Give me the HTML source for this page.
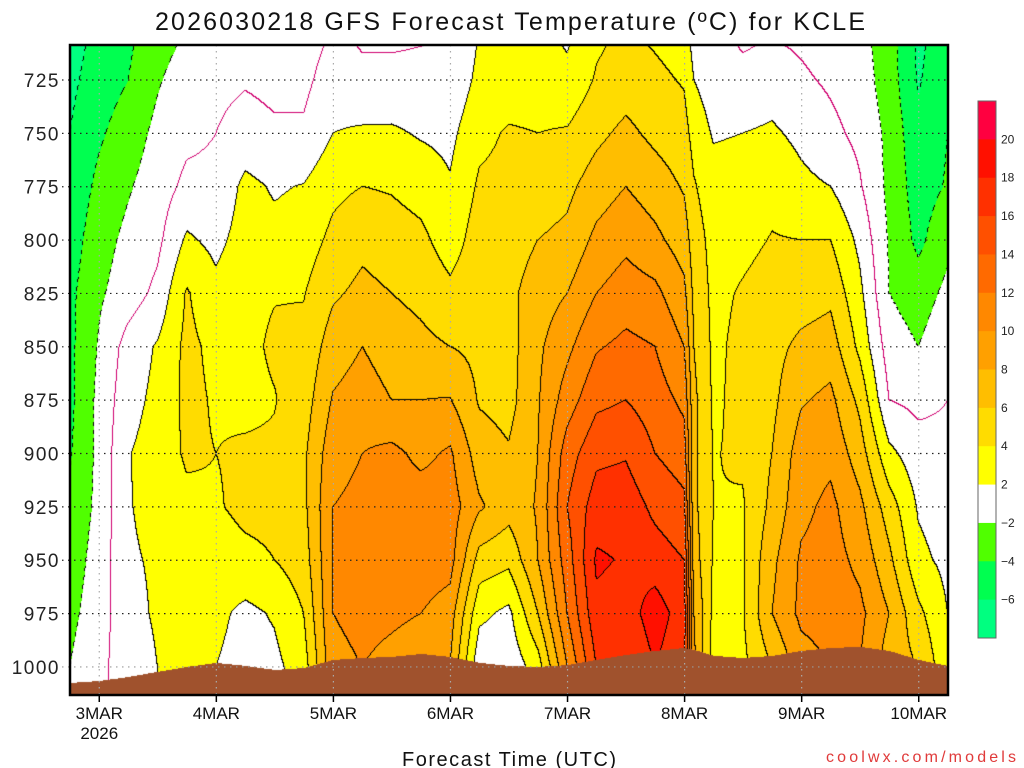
<!DOCTYPE html>
<html><head><meta charset="utf-8"><style>
html,body{margin:0;padding:0;background:#fff;}
#wrap{position:relative;width:1024px;height:768px;overflow:hidden;font-family:"Liberation Sans",sans-serif;}
canvas{position:absolute;left:70px;top:45px;}
svg{position:absolute;left:0;top:0;}
</style></head><body>
<div id="wrap">
<canvas id="cv" width="878" height="650"></canvas>
<svg id="sv" width="1024" height="768"></svg>
</div>
<script>
// ---- data ----
const forecastHours = [0,6,12,18,24,30,36,42,48,54,60,66,72,78,84,90,96,102,108,114,120,126,128,132,138,144,150,156,162,168,174,180];
const pressureLevels = [700,725,750,775,800,825,850,875,900,925,950,975,1000];
const temps = [
[-7,-6.5,-6,-5.5,-5,-4.5,-4.5,-4.5,-4.2,-3.5,-3,-2.5,-2],
[-5.5,-5,-4.3,-3.5,-2.8,-2.3,-1.8,-1.5,-1.5,-1.5,-1.2,-1,-0.5],
[-4.5,-4,-3,-2.2,-1.5,-1,0.8,1.3,1.9,1.9,1.8,1.5,1],
[-3,-2.2,-1.5,-1,-0.5,0.5,2.2,2.5,2.8,2.5,2.2,2.2,2],
[-2,-1,-0.5,0.5,2.3,4.2,4.5,4.5,4.3,3.5,3,2.5,2],
[-1,-0.5,0,0.5,1.5,2.5,3.5,3.8,4,3.8,3,2.5,2],
[-0.5,-0.2,0.8,2.5,2.8,3.5,3.5,3.5,4.3,4.5,3.5,1.5,1.2],
[-1,-0.5,0.3,1.8,2.5,3.9,4.3,3.9,4.3,4.5,4,2.2,1.5],
[-1,-0.5,0.3,2.1,3,3.9,4.5,5,5.6,5.5,5,4,3],
[0,1,2,3.5,4.5,5.7,7,8.2,9.3,10,10,10,9.5],
[-0.3,0.3,2.3,4,5.5,6.5,8,9,10,10.5,11,10.5,10],
[-0.5,0.5,2.3,3.8,5,6,7,8,10.5,11,11,10.3,9.5],
[-0.3,0.5,1.8,3.2,4.5,5.5,6.5,8,9.5,11,11.2,10,9],
[0,0.5,1.5,2.2,3,4.5,6,8.1,10.3,11,10.8,9,8],
[2,2.5,3.5,4.3,5,5.5,5.5,5.8,7,8.3,5.2,2.5,0.5],
[2.5,3,4.2,4.5,5,5.5,5.2,5.3,6.2,6.8,4.5,1.5,0.5],
[2.5,3,4,5,6,7,7.6,7.8,8,8.2,8,6,3],
[1.5,2.5,4.2,5.5,6.5,8,9.5,11,13,14,13,12,10],
[3.5,4.2,5.5,7,8.5,10,11.8,13.5,15.5,17,18.3,17.5,16],
[4.2,5,6.5,8,9.5,11,12.5,14,15.8,17.2,17.8,17,16],
[3.5,4.5,5.5,7,8.5,10.5,12,13,14,15.5,17,19,18],
[2.8,3.8,4.8,5.8,7,8.5,10,11.5,13,14.5,16,17,16.5],
[1,2,3.2,4.2,5,5.5,6,6.5,6.5,6.5,7,8,8.5],
[0.5,1,1.8,2.8,3.3,3.5,3.6,3.7,3.9,4,3.8,3.5,3],
[-0.5,0.5,2,3,3.5,4.2,4.5,4.5,4.3,3.8,3.8,3.8,3.5],
[-0.3,1,2.3,3.5,4.1,4.8,5.3,5.5,6,6.5,7.5,8,6],
[-0.5,0.3,1.5,2.5,4,5,6.5,7.8,9,9.5,10.3,10.5,9],
[-1,-0.3,0.5,2,4,5.5,7,8.5,9.5,10.5,10.8,11,10],
[-1.5,-1,-0.5,0.2,1.5,2.5,3.5,5.5,7,8.5,9.5,10.5,10],
[-3,-3,-2.5,-2.5,-2.2,-2,-1,0,2.5,5,6.5,8,7],
[-6.5,-6.2,-5.5,-5,-4.5,-3,-2,-0.5,0.8,1.8,2.5,4.5,6],
[-5,-4.5,-4,-3.8,-2.5,-1.5,-0.5,0,0.5,1,1.5,2,2.5]
];
const surfacePressure = [1007.5,1006.6,1004.7,1002.3,1000,998.1,999.5,1001.4,1000.5,996.7,995.8,995.3,993.9,995.3,998.1,999.5,1000,999.1,996.7,994.4,992.5,991.1,992,994.8,995.8,994.8,992.5,991.1,990.6,992.5,996.7,999.5];
const yTicks = [725,750,775,800,825,850,875,900,925,950,975,1000];
const dayLabels = ["3MAR","4MAR","5MAR","6MAR","7MAR","8MAR","9MAR","10MAR"];
const dayHours = [6,30,54,78,102,126,150,174];
const cbLevels = ["20","18","16","14","12","10","8","6","4","2","\u22122","\u22124","\u22126"];

// ---- axes ----
const X0=70,X1=948,Y0=45,Y1=695;
const xOf = h => X0 + h*(X1-X0)/180;
const hOf = x => (x-X0)*180/(X1-X0);
const yOf = p => 80 + (p-725)*53.36/25;
const pOf = y => 725 + (y-80)*25/53.36;
const colors = ["#00ff80","#00ff50","#50ff00","#ffffff","#ffffff","#ffff00","#ffdc00","#ffbe00","#ffa000","#ff8800","#ff6a00","#ff5000","#ff3000","#ff1000","#ff0040"];
function cls(t){ let c=Math.floor(t/2)+4; return Math.max(0,Math.min(14,c)); }
function hexRGB(h){return [parseInt(h.substr(1,2),16),parseInt(h.substr(3,2),16),parseInt(h.substr(5,2),16)];}
const rgb = colors.map(hexRGB);
const N=forecastHours.length;
function seg(h){
  let i=0; while(i<N-2 && h>=forecastHours[i+1]) i++;
  let fx=(h-forecastHours[i])/(forecastHours[i+1]-forecastHours[i]);
  return [i,Math.max(0,Math.min(1,fx))];
}
function sample(h,p){
  const [i,fx]=seg(h);
  let fj=(p-700)/25; let j=Math.max(0,Math.min(11,Math.floor(fj))); let fy=Math.max(0,Math.min(1,fj-j));
  const a=temps[i][j],b=temps[i+1][j],c=temps[i][j+1],d=temps[i+1][j+1];
  return a*(1-fx)*(1-fy)+b*fx*(1-fy)+c*(1-fx)*fy+d*fx*fy;
}
function surf(h){
  const [i,fx]=seg(h);
  return surfacePressure[i]*(1-fx)+surfacePressure[i+1]*fx;
}

// ---- field ----
const cv=document.getElementById('cv'); const ctx=cv.getContext('2d');
const W=878,H=650; const img=ctx.createImageData(W,H);
const C=new Int8Array(W*H); const G=new Uint8Array(W*H);
for(let py=0;py<H;py++){ const p=pOf(Y0+py+0.5);
  for(let px=0;px<W;px++){ const h=hOf(X0+px+0.5);
    const k=py*W+px;
    if(p>surf(h)){G[k]=1;C[k]=-1;continue;}
    C[k]=cls(sample(h,p));
  }}
for(let py=0;py<H;py++)for(let px=0;px<W;px++){
  const k=py*W+px; let col;
  if(G[k]) col=[160,82,45];
  else {
    col=rgb[C[k]];
    const r=px<W-1?C[k+1]:C[k], d=py<H-1?C[k+W]:C[k];
    let other=-2;
    if(r>=0&&r!==C[k]) other=r; else if(d>=0&&d!==C[k]) other=d;
    if(other>=0){
      const lvl=(Math.max(other,C[k])-4)*2;
      if(lvl===0) col=[208,0,112];
      else if(lvl<0){ if(((px+py)>>2)%2===0) col=[0,0,0]; }
      else col=[0,0,0];
    }
  }
  img.data[k*4]=col[0];img.data[k*4+1]=col[1];img.data[k*4+2]=col[2];img.data[k*4+3]=255;
}
ctx.putImageData(img,0,0);

// ---- overlay ----
const NS="http://www.w3.org/2000/svg"; const sv=document.getElementById('sv');
function mk(tag,attrs,txt){const e=document.createElementNS(NS,tag);for(const a in attrs)e.setAttribute(a,attrs[a]);if(txt!==undefined)e.textContent=txt;sv.appendChild(e);return e;}
yTicks.forEach(p=>{
  const l=mk('line',{x1:62,x2:X1,y1:yOf(p),y2:yOf(p),stroke:p===1000?'#999':'#222','stroke-width':1.2,'stroke-dasharray':'1.5,4.5'});
  
  
  const t=mk('text',{x:60,y:yOf(p)+7,'text-anchor':'end','font-size':19,fill:'#222','font-family':'Liberation Sans, sans-serif','letter-spacing':'1.5'},String(p));
  
  
});
dayHours.forEach((h,i)=>{
  const l=mk('line',{x1:xOf(h),x2:xOf(h),y1:Y0,y2:Y1,stroke:'#aaa','stroke-width':1.2,'stroke-dasharray':'1.5,4.5'});
  
  
  const tk=mk('line',{x1:xOf(h),x2:xOf(h),y1:Y1,y2:Y1+7,stroke:'#000','stroke-width':1.5});
  
  
  const t=mk('text',{x:xOf(h),y:719,'text-anchor':'middle','font-size':17,fill:'#111','font-family':'Liberation Sans, sans-serif'},dayLabels[i]);
  
  
});
const yr=mk('text',{x:xOf(dayHours[0]),y:739,'text-anchor':'middle','font-size':17,fill:'#111','font-family':'Liberation Sans, sans-serif'},'2026');


const fr=mk('rect',{x:X0,y:Y0,width:X1-X0,height:Y1-Y0,fill:'none',stroke:'#000','stroke-width':2.5});


const ti=mk('text',{x:155,y:30,'font-size':25,fill:'#111','font-family':'Liberation Sans, sans-serif',textLength:710,lengthAdjust:'spacing'},'2026030218 GFS Forecast Temperature (\u00baC) for KCLE');


const xt=mk('text',{x:402,y:766,'font-size':20,fill:'#111','font-family':'Liberation Sans, sans-serif',textLength:214,lengthAdjust:'spacing'},'Forecast Time (UTC)');


const cr=mk('text',{x:826,y:762,'font-size':16,fill:'#e03a3a','font-family':'Liberation Sans, sans-serif',textLength:190,lengthAdjust:'spacing'},'coolwx.com/models');


const cbTop=101,cbBot=638,nb=14,bh=(cbBot-cbTop)/nb;
for(let b=0;b<nb;b++){
  const ci=14-b - (b>=11?1:0);
  const r=mk('rect',{x:978,y:cbTop+b*bh,width:18,height:bh+0.5,fill:colors[ci]});
  
  
}
const cbf=mk('rect',{x:978,y:cbTop,width:18,height:cbBot-cbTop,fill:'none',stroke:'#666','stroke-width':1});


cbLevels.forEach((s,i)=>{
  const y=cbTop+(i+1)*bh;
  const t=mk('text',{x:1001,y:y+4,'font-size':12,fill:'#222','font-family':'Liberation Sans, sans-serif'},s);
  
  
});
</script>
</body></html>
